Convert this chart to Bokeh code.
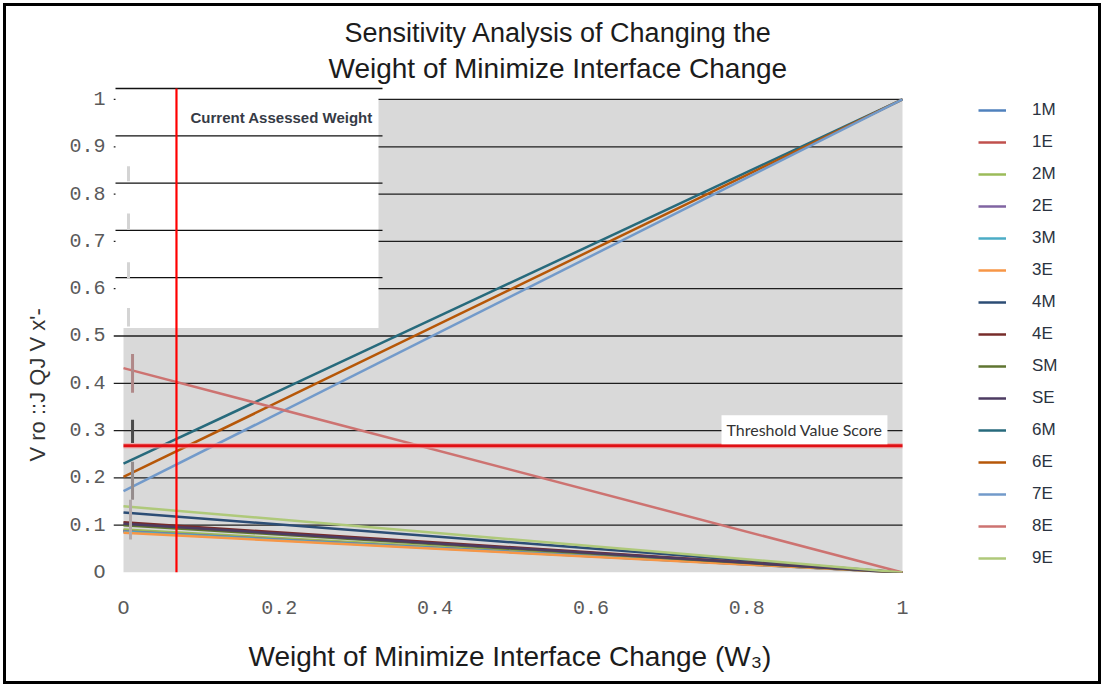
from bokeh.plotting import figure
from bokeh.models import Range1d, FixedTicker, Label, Legend, LegendItem, Title
from bokeh.embed import file_html
from bokeh.resources import INLINE

# ---------------- data ----------------
series_names = ["1M", "1E", "2M", "2E", "3M", "3E", "4M", "4E", "SM", "SE",
                "6M", "6E", "7E", "8E", "9E"]
series_colors = ["#4f81bd", "#c0504d", "#9bbb59", "#8064a2", "#4bacc6", "#f79646",
                 "#2c4d75", "#772c2a", "#5f7530", "#4d3b62", "#276a7c", "#b65708",
                 "#729aca", "#cd7371", "#afc97a"]
w3_values = [0.0, 1.0]
start_values = [0.088, 0.089, 0.091, 0.087, 0.086, 0.084, 0.127, 0.106, 0.100, 0.103,
                0.230, 0.202, 0.172, 0.432, 0.140]
end_values = [0.0, 0.0, 0.0, 0.0, 0.0, 0.0, 0.0, 0.0, 0.0, 0.0,
              1.0, 1.0, 1.0, 0.0, 0.0]

threshold_value = 0.268
current_weight = 0.068

x_ticks = [0, 0.2, 0.4, 0.6, 0.8, 1]
x_tick_labels = ["O", "0.2", "0.4", "0.6", "0.8", "1"]
y_ticks = [0, 0.1, 0.2, 0.3, 0.4, 0.5, 0.6, 0.7, 0.8, 0.9, 1]
y_tick_labels = ["O", "0.1", "0.2", "0.3", "0.4", "0.5", "0.6", "0.7", "0.8", "0.9", "1"]

# scan artifacts (small vertical marks near W3 = 0)
artifact_x = [0.0064, 0.0064, 0.0064, 0.0064, 0.0116, 0.0116, 0.0116, 0.009]
artifact_y0 = [0.827, 0.724, 0.622, 0.520, 0.380, 0.274, 0.154, 0.070]
artifact_y1 = [0.859, 0.759, 0.656, 0.559, 0.462, 0.323, 0.234, 0.154]
artifact_colors = ["#d4d4d4", "#d4d4d4", "#d4d4d4", "#d4d4d4", "#b08888", "#4a4a4a",
                   "#958c8c", "#b4aaaa"]

title_line1 = "Sensitivity Analysis of Changing the"
title_line2 = "Weight of Minimize Interface Change"
x_title = "Weight of Minimize Interface Change (W\u2083)"
y_title = "V ro ::J QJ V x'-"


# helpers: reference-picture pixel -> data coordinate
def X(px):
    return (px - 123) / 779


def Y(py):
    return (573 - py) / 474


p = figure(width=1098, height=681, output_backend="svg", toolbar_location=None,
           x_range=Range1d(X(113), X(1095)), y_range=Range1d(0, Y(86)),
           min_border_left=107, min_border_right=9, min_border_top=80, min_border_bottom=114,
           background_fill_color="white", border_fill_color="white", outline_line_color=None)
p.styles = {"border": "3px solid black", "margin": "3px"}
p.xgrid.visible = False
p.ygrid.visible = False

# axes
p.xaxis.ticker = FixedTicker(ticks=x_ticks)
p.yaxis.ticker = FixedTicker(ticks=y_ticks)
p.xaxis.major_label_overrides = dict(zip(x_ticks, x_tick_labels))
p.yaxis.major_label_overrides = dict(zip(y_ticks, y_tick_labels))
for ax in (p.xaxis[0], p.yaxis[0]):
    ax.axis_line_color = None
    ax.major_tick_line_color = None
    ax.minor_tick_line_color = None
    ax.major_tick_out = 0
    ax.major_tick_in = 0
    ax.minor_tick_out = 0
    ax.minor_tick_in = 0
    ax.major_label_text_font = "Liberation Mono"
    ax.major_label_text_font_size = "20px"
    ax.major_label_text_color = "#5a5a5a"
p.yaxis.major_label_standoff = 8
p.xaxis.major_label_standoff = 24

# titles outside the frame
tkw = dict(text_font="Liberation Sans", text_font_style="normal",
           text_color="#1c1c1c", align="left")
p.add_layout(Title(text=title_line2, offset=215, standoff=6, text_font_size="28px", **tkw), "above")
p.add_layout(Title(text=title_line1, offset=231, standoff=0, text_font_size="27px", **tkw), "above")
p.add_layout(Title(text=x_title, offset=135, standoff=32, text_font_size="28px", **tkw), "below")
p.add_layout(Title(text=y_title, offset=111, standoff=33, text_font="Liberation Sans",
                   text_font_style="normal", text_font_size="22px", text_color="#333333",
                   align="left"), "left")

# plot area background
p.quad(left=[0], right=[1], bottom=[0], top=[1], fill_color="#d9d9d9", line_color=None)

# grid lines
gy = y_ticks[1:]
p.segment(x0=[p.x_range.start] * len(gy), x1=[1] * len(gy), y0=gy, y1=gy,
          line_color="#1e1e1e", line_width=1.3)

# series
renderers = []
for name, color, s, e in zip(series_names, series_colors, start_values, end_values):
    r = p.line(x=w3_values, y=[s, e], line_color=color, line_width=2.5)
    renderers.append(r)

# threshold
p.line(x=[0, 1], y=[threshold_value] * 2, line_color="#f2a0a0", line_width=5.5, line_alpha=0.7)
p.line(x=[0, 1], y=[threshold_value] * 2, line_color="#e01015", line_width=3)

# white pasted box in the upper-left with shifted lines
p.quad(left=[X(115)], right=[X(378)], bottom=[Y(328)], top=[Y(87)],
       fill_color="white", line_color=None)
shift = Y(88) - 1.0
by = [v + shift for v in y_ticks[6:]]
p.segment(x0=[X(115)] * len(by), x1=[X(382)] * len(by), y0=by, y1=by,
          line_color="#111111", line_width=1.3)

# current assessed weight
p.line(x=[current_weight] * 2, y=[0, Y(88)], line_color="#ff0000", line_width=2.2)

# artifacts
p.segment(x0=artifact_x, x1=artifact_x, y0=artifact_y0, y1=artifact_y1,
          line_color=artifact_colors, line_width=3)

# texts inside the frame
p.add_layout(Label(x=X(190), y=Y(117), text="Current Assessed Weight", text_baseline="middle",
                   text_font="Liberation Sans", text_font_style="bold", text_font_size="15px",
                   text_color="#363b46"))
p.add_layout(Label(x=X(721), y=Y(430), text="Threshold Value Score", text_baseline="middle",
                   text_font="Lato", text_font_size="16px", text_color="#333333",
                   background_fill_color="white", padding=5))

# legend
legend = Legend(items=[LegendItem(label=n, renderers=[r]) for n, r in zip(series_names, renderers)],
                location=(865, 4), padding=0, margin=0, spacing=12,
                glyph_width=28, glyph_height=20, label_height=20, label_standoff=26,
                label_text_font="Liberation Sans", label_text_font_size="17px",
                label_text_color="#2b3340", border_line_color=None, background_fill_alpha=0)
p.add_layout(legend)

open("out.html", "w").write(file_html(p, INLINE))
